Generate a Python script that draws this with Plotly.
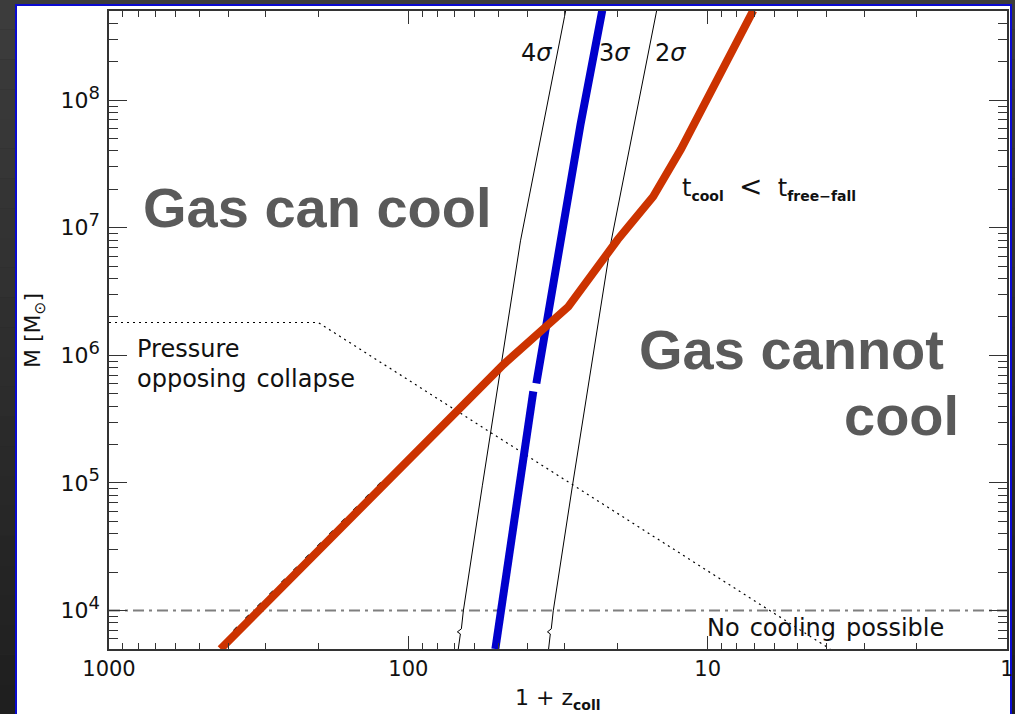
import plotly.graph_objects as go

# ---------------------------------------------------------------- data
# cooling criterion t_cool < t_free-fall  (1+z, halo mass in Msun)
cool_z = [424, 48.2, 29.2, 20.0, 15.2, 12.3, 7.04]
cool_m = [5.0e3, 8.45e5, 2.41e6, 8.05e6, 1.76e7, 4.1e7, 5.05e8]

# thin dashed companion along the low-mass end of the cooling curve
dash_z = [384, 122]
dash_m = [6.97e3, 1.04e5]

# 3-sigma peaks (two pieces)
s3_z = [51.2, 38.24, None, 37.35, 26.6, 22.5]
s3_m = [5.0e3, 5.22e5, None, 6.03e5, 6.44e7, 5.05e8]

# 4-sigma peaks
s4_z = [68.1, 67.0, 68.6, 66.5, 65.5, 56.6, 42.2, 29.8]
s4_m = [5.0e3, 6.56e3, 6.81e3, 7.19e3, 9.95e3, 9.5e4, 7.9e6, 5.05e8]

# 2-sigma peaks
s2_z = [34.0, 33.55, 34.3, 33.3, 32.8, 28.3, 21.0, 14.8]
s2_m = [5.0e3, 6.56e3, 6.81e3, 7.19e3, 9.95e3, 9.5e4, 7.9e6, 5.05e8]

# Jeans-type pressure support limit
press_z = [1000, 200, 3.9]
press_m = [1.81e6, 1.81e6, 5.0e3]

# minimum mass for any cooling
floor_z = [1000, 1]
floor_m = [1.0e4, 1.0e4]

x_ticks = [1000, 100, 10, 1]
x_labels = ["1000", "100", "10", "1"]
y_ticks = [1e4, 1e5, 1e6, 1e7, 1e8]
y_exps = ["4", "5", "6", "7", "8"]

# ---------------------------------------------------------------- layout helpers
W, H = 1015, 714
ML, MR, MT, MB = 109, 8, 11, 65
PW = W - ML - MR
PH = H - MT - MB


def fx(p):
    return (p - ML) / PW


def fy(p):
    return (H - MB - p) / PH


FONT = "DejaVu Sans"
AX = "#333333"
SP = " \u200a"  # slightly wide word gap

fig = go.Figure()

fig.add_trace(go.Scatter(x=press_z, y=press_m, mode="lines",
                         line=dict(color="black", width=1.2, dash="2px,4px")))
fig.add_trace(go.Scatter(x=floor_z, y=floor_m, mode="lines",
                         line=dict(color="#7f7f7f", width=2,
                                   dash="11px,5px,3px,5px")))
fig.add_trace(go.Scatter(x=s4_z, y=s4_m, mode="lines",
                         line=dict(color="black", width=1)))
fig.add_trace(go.Scatter(x=s2_z, y=s2_m, mode="lines",
                         line=dict(color="black", width=1)))
fig.add_trace(go.Scatter(x=dash_z, y=dash_m, mode="lines",
                         line=dict(color="black", width=1.2, dash="5px,12px")))
fig.add_trace(go.Scatter(x=s3_z, y=s3_m, mode="lines", connectgaps=False,
                         line=dict(color="#0000CC", width=8)))
fig.add_trace(go.Scatter(x=cool_z, y=cool_m, mode="lines",
                         line=dict(color="#CC3300", width=8)))

minor_x = [m * 10 ** k for k in range(0, 3) for m in range(2, 10)]
minor_y = [m * 10 ** k for k in range(3, 9) for m in range(2, 10)]

y_labels = [f"10<sup><span style='font-size:18px'>{e}</span></sup>" for e in y_exps]

fig.update_xaxes(
    type="log", range=[3, 0], showgrid=False, zeroline=False, automargin=False,
    showline=True, linecolor=AX, linewidth=1.5, mirror="allticks",
    ticks="inside", ticklen=13, tickwidth=1.3, tickcolor=AX,
    tickvals=x_ticks, ticktext=x_labels,
    tickfont=dict(family=FONT, size=21, color="#111111"),
    minor=dict(ticks="inside", ticklen=6, tickwidth=1.3, tickcolor=AX,
               tickvals=minor_x, showgrid=False),
)
fig.update_yaxes(
    type="log", range=[3.69897, 8.69897], showgrid=False, zeroline=False,
    automargin=False,
    showline=True, linecolor=AX, linewidth=1.5, mirror="allticks",
    ticks="inside", ticklen=18, tickwidth=1.3, tickcolor=AX,
    tickvals=y_ticks, ticktext=y_labels, ticklabelstandoff=3,
    tickfont=dict(family=FONT, size=22, color="#111111"),
    minor=dict(ticks="inside", ticklen=9, tickwidth=1.3, tickcolor=AX,
               tickvals=minor_y, showgrid=False),
)

# dark frame with a vertical shade, then the white panel with a blue rim
shapes = []
N = 24
for i in range(N):
    t = i / (N - 1)
    c = int(round(0x3c + (0x1f - 0x3c) * t))
    shapes.append(dict(type="rect", xref="paper", yref="paper", layer="below",
                       x0=fx(0), x1=fx(W), y0=fy(H * (i + 1) / N),
                       y1=fy(H * i / N), line=dict(width=0),
                       fillcolor=f"rgb({c},{c},{c})"))
shapes.append(dict(type="rect", xref="paper", yref="paper", layer="below",
                   x0=fx(16), x1=fx(1011), y0=fy(H + 10), y1=fy(5),
                   line=dict(color="#0a0ad0", width=2), fillcolor="white"))

ann = []


def label(text, x, y, size=24, xanchor="left", yanchor="middle", color="#111111",
          family=FONT, angle=0):
    ann.append(dict(text=text, x=fx(x), y=fy(y), xref="paper", yref="paper",
                    xanchor=xanchor, yanchor=yanchor, showarrow=False,
                    textangle=angle,
                    font=dict(family=family, size=size, color=color)))


BIG = dict(size=56, color="#5a5a5a", family="Liberation Sans")
label("<b>Gas can cool</b>", 141, 207, **BIG)
label("<b>Gas cannot</b>", 637, 349, **BIG)
label("<b>cool</b>", 961, 416, xanchor="right", **BIG)

label("4<i>σ</i>", 536, 53, xanchor="center")
label("3<i>σ</i>", 614, 53, xanchor="center")
label("2<i>σ</i>", 670, 53, xanchor="center")

label("t<sub><span style='font-size:14px'><b>cool</b></span></sub>  "
      "<span style='font-size:28px'>&lt;</span>  "
      "t<sub><span style='font-size:14px'><b>free−fall</b></span></sub>",
      680, 187)

label("Pressure", 135, 349)
label(f"opposing{SP}collapse", 135, 379)
label(f"No{SP}cooling{SP}possible", 705, 628)

label("1 + z<sub><span style='font-size:14px'><b>coll</b></span></sub>",
      557, 699, size=22, xanchor="center")
label("M [M<sub>⊙</sub>]", 35, 331, size=22, xanchor="center", angle=-90)

fig.update_layout(
    width=W, height=H, showlegend=False,
    margin=dict(l=ML, r=MR, t=MT, b=MB, pad=0, autoexpand=False),
    paper_bgcolor="#2a2a2a", plot_bgcolor="white",
    shapes=shapes, annotations=ann,
)

fig.write_html("out.html")
